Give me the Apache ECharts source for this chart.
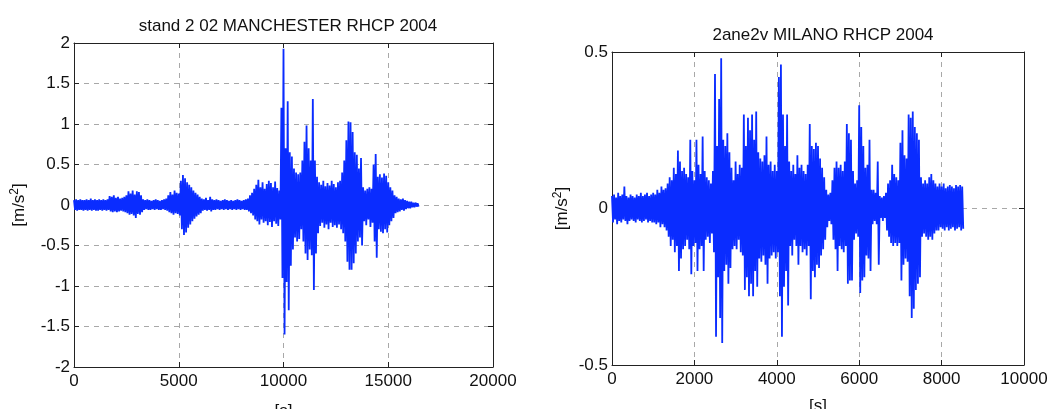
<!DOCTYPE html>
<html>
<head>
<meta charset="utf-8">
<script src="https://cdn.jsdelivr.net/npm/echarts@6/dist/echarts.min.js"></script>
<style>
html,body{margin:0;padding:0;background:#fff;}
#chart{width:1052px;height:409px;}
</style>
</head>
<body>
<div id="chart"></div>
<script>
// ---- Left panel: stand 2 02 MANCHESTER RHCP 2004 ----
const LEFT_TITLE = 'stand 2 02 MANCHESTER RHCP 2004';
const LEFT_X_TICKS = [0, 5000, 10000, 15000, 20000];
const LEFT_Y_TICKS = [-2, -1.5, -1, -0.5, 0, 0.5, 1, 1.5, 2];
const LEFT_T0 = 0;      // first sample time [s]
const LEFT_STEP = 100;  // envelope sample spacing [s]
// upper peaks, one per 100 s
const LEFT_UPPER = [
  0.06,0.07,0.06,0.07,0.06,0.06,0.07,0.06,0.08,0.06,0.07,0.06,0.07,0.06,0.07,0.06,0.07,
  0.11,0.10,0.12,0.09,0.10,0.08,0.09,0.10,
  0.12,0.17,0.14,0.18,0.13,0.17,0.16,0.12,
  0.07,0.06,0.07,0.06,0.05,0.06,0.07,0.06,0.05,0.06,0.07,0.08,
  0.12,0.16,0.13,0.18,0.15,0.14,
  0.30,0.37,0.33,0.28,0.25,
  0.22,0.18,0.15,0.13,0.10,
  0.08,0.07,0.09,0.06,0.10,0.07,0.06,0.07,0.06,0.05,0.06,0.07,0.06,0.05,0.06,0.05,0.06,0.07,0.06,0.05,0.06,0.07,
  0.08,0.12,0.15,0.20,
  0.25,0.31,0.22,0.28,0.20,0.26,0.30,0.27,0.22,0.29,0.21,0.18,
  1.20,
  1.93,0.70,1.28,
  0.65,0.60,0.45,0.40,0.38,0.40,0.55,0.78,0.98,0.70,0.55,1.31,0.55,0.35,
  0.28,0.25,0.30,0.23,0.27,0.24,0.30,0.26,0.22,0.28,0.30,
  0.40,0.55,0.80,1.03,1.02,0.90,0.65,0.62,0.45,0.58,0.22,0.18,0.20,0.22,0.20,0.50,0.63,
  0.35,0.38,0.34,0.39,0.36,0.28,0.22,0.18,0.12,0.10,0.08,0.07,0.08,0.06,0.05,0.04,0.04,0.03,0.03,0.02
];
// lower peaks, one per 100 s
const LEFT_LOWER = [
  -0.06,-0.07,-0.06,-0.06,-0.07,-0.06,-0.07,-0.06,-0.07,-0.06,-0.07,-0.07,-0.06,-0.07,-0.06,-0.07,-0.06,
  -0.08,-0.09,-0.08,-0.09,-0.08,-0.07,-0.08,-0.09,
  -0.10,-0.12,-0.11,-0.13,-0.16,-0.11,-0.12,-0.09,
  -0.06,-0.05,-0.06,-0.06,-0.05,-0.06,-0.05,-0.06,-0.06,-0.05,-0.06,-0.07,
  -0.09,-0.10,-0.12,-0.10,-0.11,-0.13,
  -0.30,-0.37,-0.34,-0.28,-0.24,
  -0.20,-0.17,-0.14,-0.12,-0.10,
  -0.07,-0.06,-0.07,-0.06,-0.08,-0.06,-0.06,-0.05,-0.06,-0.05,-0.06,-0.05,-0.06,-0.05,-0.06,-0.05,-0.06,-0.05,-0.06,-0.05,-0.06,-0.06,
  -0.08,-0.10,-0.13,-0.18,
  -0.20,-0.24,-0.18,-0.22,-0.20,-0.25,-0.21,-0.27,-0.20,-0.23,-0.26,-0.18,
  -0.90,
  -1.60,-0.95,-1.30,
  -0.75,-0.55,-0.40,-0.45,-0.42,-0.30,-0.45,-0.60,-0.68,-0.55,-0.62,-1.05,-0.60,-0.35,
  -0.26,-0.22,-0.28,-0.24,-0.30,-0.22,-0.27,-0.25,-0.28,-0.24,-0.30,
  -0.35,-0.45,-0.70,-0.80,-0.80,-0.72,-0.60,-0.45,-0.40,-0.50,-0.20,-0.25,-0.18,-0.27,-0.22,-0.45,-0.65,
  -0.30,-0.33,-0.35,-0.30,-0.34,-0.25,-0.20,-0.16,-0.10,-0.09,-0.08,-0.06,-0.07,-0.05,-0.04,-0.04,-0.03,-0.03,-0.02,-0.02
];

// ---- Right panel: 2ane2v MILANO RHCP 2004 ----
const RIGHT_TITLE = '2ane2v MILANO RHCP 2004';
const RIGHT_X_TICKS = [0, 2000, 4000, 6000, 8000, 10000];
const RIGHT_Y_TICKS = [-0.5, 0, 0.5];
const RIGHT_T0 = 0;
const RIGHT_STEP = 50;
const RIGHT_UPPER = [
  0.04,0.045,0.035,0.05,0.04,0.045,0.07,0.04,0.035,0.045,
  0.04,0.035,0.045,0.04,0.05,0.04,0.045,0.05,0.04,0.045,
  0.05,0.045,0.06,0.05,0.07,0.06,0.065,0.08,0.10,0.09,
  0.13,0.11,0.185,0.15,0.12,0.13,0.11,0.10,0.22,0.12,
  0.09,0.22,0.14,0.11,0.23,0.12,0.10,0.09,0.08,0.12,
  0.43,0.20,0.35,0.48,0.22,0.20,0.24,0.18,0.13,0.09,
  0.15,0.11,0.14,0.13,0.30,0.20,0.29,0.25,0.30,0.22,
  0.31,0.18,0.16,0.15,0.17,0.23,0.14,0.15,0.12,0.14,
  0.12,0.42,0.46,0.30,0.20,0.30,0.15,0.12,0.14,0.11,
  0.17,0.13,0.14,0.12,0.11,0.14,0.27,0.20,0.19,0.21,
  0.20,0.16,0.13,0.10,0.06,0.045,0.05,0.09,0.13,0.15,
  0.13,0.14,0.12,0.15,0.27,0.24,0.22,0.12,0.08,0.09,
  0.33,0.26,0.20,0.13,0.14,0.22,0.06,0.06,0.05,0.15,
  0.04,0.035,0.04,0.05,0.08,0.09,0.14,0.11,0.10,0.09,
  0.21,0.25,0.17,0.16,0.30,0.29,0.31,0.26,0.24,0.22,
  0.10,0.08,0.09,0.08,0.10,0.11,0.09,0.08,0.07,0.08,
  0.07,0.08,0.065,0.07,0.075,0.07,0.065,0.075,0.07,0.075,0.07
];
const RIGHT_LOWER = [
  -0.045,-0.035,-0.05,-0.04,-0.045,-0.035,-0.04,-0.05,-0.04,-0.035,
  -0.04,-0.045,-0.035,-0.04,-0.045,-0.04,-0.035,-0.045,-0.04,-0.045,
  -0.045,-0.05,-0.045,-0.06,-0.05,-0.06,-0.07,-0.09,-0.12,-0.10,
  -0.14,-0.12,-0.20,-0.16,-0.13,-0.12,-0.10,-0.13,-0.21,-0.12,
  -0.11,-0.20,-0.13,-0.12,-0.20,-0.10,-0.09,-0.11,-0.08,-0.14,
  -0.41,-0.22,-0.35,-0.43,-0.20,-0.18,-0.24,-0.19,-0.13,-0.12,
  -0.13,-0.10,-0.14,-0.15,-0.26,-0.22,-0.28,-0.24,-0.28,-0.20,
  -0.25,-0.16,-0.17,-0.15,-0.18,-0.24,-0.16,-0.15,-0.14,-0.16,
  -0.14,-0.28,-0.41,-0.25,-0.20,-0.31,-0.12,-0.15,-0.10,-0.12,
  -0.18,-0.12,-0.14,-0.13,-0.15,-0.12,-0.29,-0.20,-0.22,-0.18,
  -0.19,-0.15,-0.13,-0.10,-0.06,-0.04,-0.05,-0.10,-0.13,-0.20,
  -0.12,-0.13,-0.14,-0.12,-0.24,-0.23,-0.23,-0.10,-0.08,-0.09,
  -0.27,-0.23,-0.22,-0.15,-0.16,-0.20,-0.05,-0.04,-0.05,-0.18,
  -0.03,-0.04,-0.03,-0.07,-0.09,-0.11,-0.12,-0.11,-0.12,-0.11,
  -0.23,-0.18,-0.16,-0.17,-0.28,-0.35,-0.32,-0.26,-0.24,-0.22,
  -0.09,-0.08,-0.09,-0.10,-0.09,-0.10,-0.08,-0.07,-0.07,-0.06,
  -0.065,-0.07,-0.06,-0.07,-0.065,-0.06,-0.07,-0.065,-0.06,-0.07,-0.065
];

const X_NAME = '[s]';
const Y_NAME = '[m/s{sup|2}]';

// Build an oscillating trace that touches each read upper and lower peak
function trace(t0, step, up, lo) {
  const d = [];
  for (let i = 0; i < up.length; i++) {
    d.push([t0 + i * step, up[i]]);
    d.push([t0 + i * step + step / 2, lo[i]]);
  }
  return d;
}

const FONT = '"Liberation Sans", Arial, sans-serif';
const BLUE = '#0a2cff';
const GRID_LINE = { show: true, lineStyle: { color: '#a8a8a8', type: [5, 5], width: 1 } };

function axesFor(gi, xt, yt, yDec, xMargin, yMargin, xGap, yGap) {
  const xmin = xt[0], xmax = xt[xt.length - 1], xint = xt[1] - xt[0];
  const ymin = yt[0], ymax = yt[yt.length - 1], yint = yt[1] - yt[0];
  const lineCol = { lineStyle: { color: '#222', width: 1 } };
  const tick = { show: true, inside: true, length: 5, lineStyle: { color: '#222' } };
  const x = [
    { type: 'value', gridIndex: gi, position: 'bottom', min: xmin, max: xmax, interval: xint,
      axisLine: Object.assign({ show: true, onZero: false }, lineCol), axisTick: tick,
      axisLabel: { show: true, color: '#111', fontSize: 17, fontFamily: FONT, margin: xMargin,
        formatter: v => String(v) },
      splitLine: GRID_LINE,
      name: X_NAME, nameLocation: 'middle', nameGap: xGap,
      nameTextStyle: { fontSize: 17, fontFamily: FONT, color: '#111' } },
    { type: 'value', gridIndex: gi, position: 'top', min: xmin, max: xmax, interval: xint,
      axisLine: Object.assign({ show: true, onZero: false }, lineCol), axisTick: tick,
      axisLabel: { show: false }, splitLine: { show: false } }
  ];
  const y = [
    { type: 'value', gridIndex: gi, position: 'left', min: ymin, max: ymax, interval: yint,
      axisLine: Object.assign({ show: true, onZero: false }, lineCol), axisTick: tick,
      axisLabel: { show: true, color: '#111', fontSize: 17, fontFamily: FONT, margin: yMargin,
        formatter: v => String(+v.toFixed(yDec)) },
      splitLine: GRID_LINE,
      name: Y_NAME, nameLocation: 'middle', nameGap: yGap, nameRotate: 90,
      nameTextStyle: { fontSize: 17, fontFamily: FONT, color: '#111',
        rich: { sup: { fontSize: 12, fontFamily: FONT, color: '#111', verticalAlign: 'top', padding: [0, 0, 8, 0] } } } },
    { type: 'value', gridIndex: gi, position: 'right', min: ymin, max: ymax, interval: yint,
      axisLine: Object.assign({ show: true, onZero: false }, lineCol), axisTick: tick,
      axisLabel: { show: false }, splitLine: { show: false } }
  ];
  return { x, y };
}

const L = axesFor(0, LEFT_X_TICKS, LEFT_Y_TICKS, 1, 6, 4, 36, 45);
const R = axesFor(1, RIGHT_X_TICKS, RIGHT_Y_TICKS, 1, 6, 4, 33, 40);

const chart = echarts.init(document.getElementById('chart'), null, { renderer: 'canvas' });
chart.setOption({
  animation: false,
  backgroundColor: '#fff',
  title: [
    { text: LEFT_TITLE, left: 283, top: 13, textAlign: 'center',
      textStyle: { fontSize: 17, fontWeight: 'normal', fontFamily: FONT, color: '#111' } },
    { text: RIGHT_TITLE, left: 818, top: 22, textAlign: 'center',
      textStyle: { fontSize: 17, fontWeight: 'normal', fontFamily: FONT, color: '#111' } }
  ],
  grid: [
    { left: 74, top: 43, width: 419, height: 324, containLabel: false, outerBoundsMode: 'none' },
    { left: 612, top: 52, width: 412, height: 313, containLabel: false, outerBoundsMode: 'none' }
  ],
  xAxis: [L.x[0], L.x[1], R.x[0], R.x[1]],
  yAxis: [L.y[0], L.y[1], R.y[0], R.y[1]],
  series: [
    { type: 'line', xAxisIndex: 0, yAxisIndex: 0, showSymbol: false, symbol: 'none', sampling: undefined,
      lineStyle: { color: BLUE, width: 1.8 }, data: trace(LEFT_T0, LEFT_STEP, LEFT_UPPER, LEFT_LOWER) },
    { type: 'line', xAxisIndex: 2, yAxisIndex: 2, showSymbol: false, symbol: 'none', sampling: undefined,
      lineStyle: { color: BLUE, width: 1.8 }, data: trace(RIGHT_T0, RIGHT_STEP, RIGHT_UPPER, RIGHT_LOWER) }
  ]
});
</script>
</body>
</html>
